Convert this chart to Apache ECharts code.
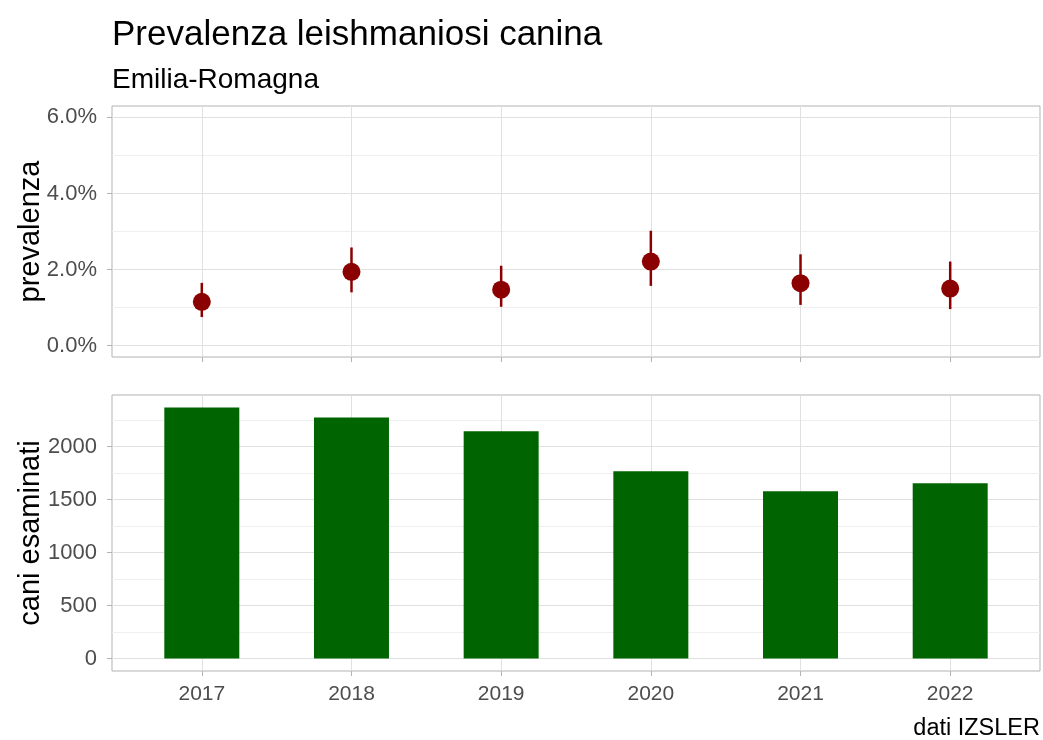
<!DOCTYPE html>
<html>
<head>
    <meta charset="utf-8"/>
    <title>Prevalenza leishmaniosi canina</title>
    <script src="https://cdn.jsdelivr.net/npm/echarts@6/dist/echarts.min.js"></script>
    <style>
        html, body { margin: 0; padding: 0; background: #fff; }
        #main { width: 1043px; height: 740px; }
    </style>
</head>
<body>
<div id="main"></div>
<script type="text/javascript">
    // dati
    var years = [2017, 2018, 2019, 2020, 2021, 2022];
    var prevalenza = [1.15, 1.94, 1.47, 2.21, 1.64, 1.50];   // %
    var lowerCI = [0.75, 1.40, 1.02, 1.57, 1.07, 0.96];
    var upperCI = [1.65, 2.58, 2.10, 3.02, 2.40, 2.21];
    var esaminati = [2370, 2276, 2146, 1769, 1580, 1655];

    var prevTicks = [0, 2, 4, 6];
    var prevMinor = [1, 3, 5];
    var caniTicks = [0, 500, 1000, 1500, 2000];
    var caniMinor = [250, 750, 1250, 1750, 2250];

    var FONT = 'Liberation Sans, Arial, sans-serif';
    var majorGrid = '#e0e0e0';
    var minorGrid = '#efefef';
    var border = '#b3b3b3';

    var pointData = years.map(function (y, i) { return [y, prevalenza[i]]; });
    var errData = years.map(function (y, i) { return [y, lowerCI[i], upperCI[i]]; });
    var barData = years.map(function (y, i) { return [y, esaminati[i]]; });

    function xAxisFor(gridIndex, showLabels) {
        return {
            type: 'value', gridIndex: gridIndex,
            min: 2016.4, max: 2022.6,
            axisLine: { show: false, onZero: false },
            axisTick: { show: true, customValues: years, length: 5, lineStyle: { color: border } },
            axisLabel: {
                show: showLabels, customValues: years, margin: 13,
                color: '#4d4d4d', fontSize: 21, fontFamily: FONT,
                formatter: function (v) { return String(v); }
            },
            splitLine: { show: true, lineStyle: { color: majorGrid, width: 1 } }
        };
    }

    function yAxisFor(gridIndex, min, max, ticks, minor, fmt, name) {
        return [{
            // griglia minore
            type: 'value', gridIndex: gridIndex, position: 'left',
            min: min, max: max,
            axisLine: { show: false, onZero: false },
            axisTick: { show: false, customValues: minor },
            axisLabel: { show: false, customValues: minor },
            splitLine: { show: true, lineStyle: { color: minorGrid, width: 1 } }
        }, {
            type: 'value', gridIndex: gridIndex, position: 'left',
            min: min, max: max,
            name: name, nameLocation: 'middle', nameGap: 67, nameMoveOverlap: false,
            nameTextStyle: { color: '#000', fontSize: 29, fontFamily: FONT },
            axisLine: { show: false, onZero: false },
            axisTick: { show: true, customValues: ticks, length: 5, lineStyle: { color: border } },
            axisLabel: { customValues: ticks, margin: 15, color: '#4d4d4d', fontSize: 22, fontFamily: FONT, formatter: fmt },
            splitLine: { show: true, lineStyle: { color: majorGrid, width: 1 } }
        }];
    }

    var myChart = echarts.init(document.getElementById('main'), null, { renderer: 'canvas' });

    var option = {
        backgroundColor: '#fff',
        animation: false,
        title: [{
            text: 'Prevalenza leishmaniosi canina',
            left: 107, top: 13,
            textStyle: { color: '#000', fontSize: 35, fontWeight: 'normal', fontFamily: FONT }
        }, {
            text: 'Emilia-Romagna',
            left: 107, top: 61,
            textStyle: { color: '#000', fontSize: 28, fontWeight: 'normal', fontFamily: FONT }
        }, {
            text: 'dati IZSLER',
            right: -2, top: 712,
            textStyle: { color: '#000', fontSize: 23.5, fontWeight: 'normal', fontFamily: FONT }
        }],
        grid: [
            { left: 112, top: 106, width: 928, height: 251, show: true, borderColor: border, borderWidth: 1, backgroundColor: '#fff' },
            { left: 112, top: 395, width: 928, height: 276, show: true, borderColor: border, borderWidth: 1, backgroundColor: '#fff' }
        ],
        xAxis: [xAxisFor(0, false), xAxisFor(1, true)],
        yAxis: yAxisFor(0, -0.3, 6.3, prevTicks, prevMinor, function (v) { return v.toFixed(1) + '%'; }, 'prevalenza')
            .concat(yAxisFor(1, -118.5, 2488.5, caniTicks, caniMinor, function (v) { return String(v); }, 'cani esaminati')),
        series: [
            {
                name: 'intervallo',
                type: 'custom',
                xAxisIndex: 0, yAxisIndex: 1,
                data: errData,
                renderItem: function (params, api) {
                    var lo = api.coord([api.value(0), api.value(1)]);
                    var hi = api.coord([api.value(0), api.value(2)]);
                    return {
                        type: 'line',
                        shape: { x1: lo[0], y1: lo[1], x2: hi[0], y2: hi[1] },
                        style: { stroke: '#8b0000', lineWidth: 2.5 }
                    };
                },
                z: 3
            },
            {
                name: 'prevalenza',
                type: 'scatter',
                xAxisIndex: 0, yAxisIndex: 1,
                data: pointData,
                symbolSize: 18,
                itemStyle: { color: '#8b0000', opacity: 1 },
                z: 4
            },
            {
                name: 'cani esaminati',
                type: 'bar',
                xAxisIndex: 1, yAxisIndex: 3,
                data: barData,
                barWidth: 75,
                itemStyle: { color: '#006400' }
            }
        ]
    };

    myChart.setOption(option);
</script>
</body>
</html>
